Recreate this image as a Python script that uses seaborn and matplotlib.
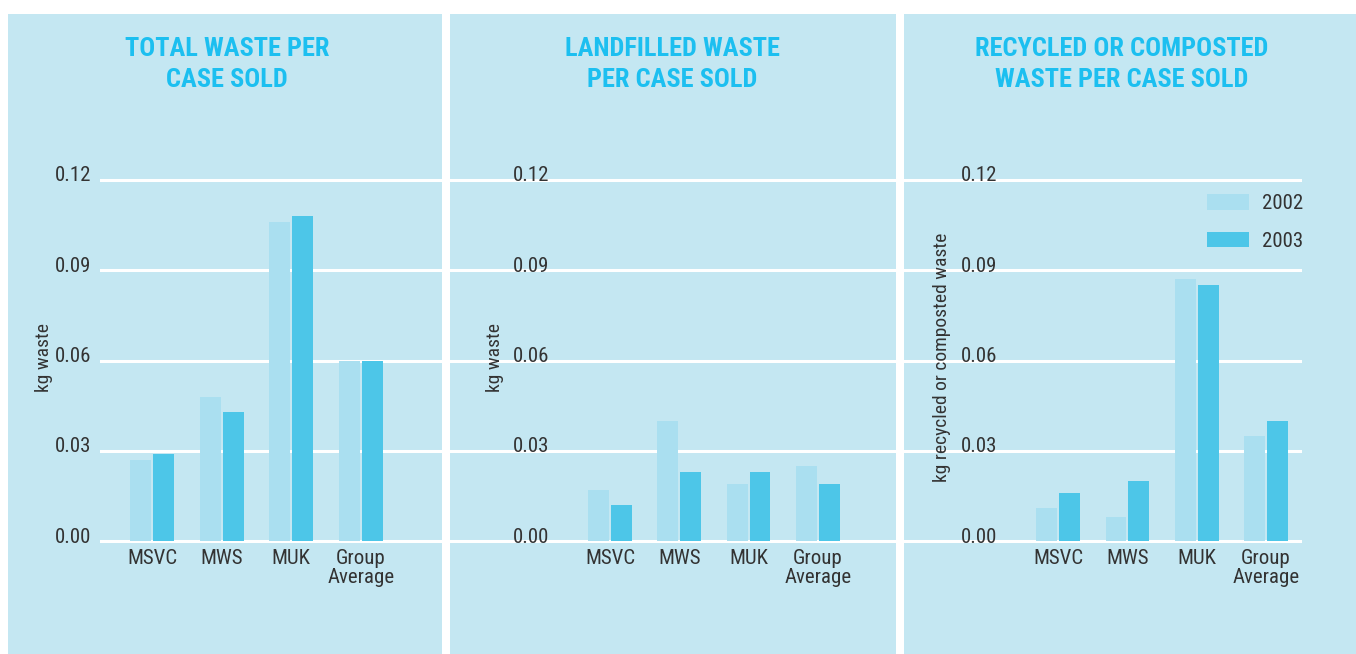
import matplotlib
matplotlib.use("Agg")
import matplotlib.pyplot as plt
from matplotlib import font_manager
from matplotlib.patches import Rectangle
from matplotlib.transforms import ScaledTranslation
import pandas as pd
import seaborn as sns

# ---- data -------------------------------------------------------------
sites = ["MSVC", "MWS", "MUK", "Group\nAverage"]
years = ["2002", "2003"]

total_2002 = [0.027, 0.048, 0.106, 0.060]
total_2003 = [0.029, 0.043, 0.108, 0.060]

landfill_2002 = [0.017, 0.040, 0.019, 0.025]
landfill_2003 = [0.012, 0.023, 0.023, 0.019]

recycled_2002 = [0.011, 0.008, 0.087, 0.035]
recycled_2003 = [0.016, 0.020, 0.085, 0.040]

y_ticks = [0.00, 0.03, 0.06, 0.09, 0.12]
y_tick_labels = ["0.00", "0.03", "0.06", "0.09", "0.12"]

titles = ["TOTAL WASTE PER\nCASE SOLD",
          "LANDFILLED WASTE\nPER CASE SOLD",
          "RECYCLED OR COMPOSTED\nWASTE PER CASE SOLD"]
y_labels = ["kg waste", "kg waste", "kg recycled or composted waste"]

# ---- style ------------------------------------------------------------
PANEL_BG = "#c4e7f2"
C2002 = "#aadff0"
C2003 = "#4dc6e8"
TITLE_C = "#1cbff0"
TEXT_C = "#333333"

available = {f.name for f in font_manager.fontManager.ttflist}
FONT = next((f for f in ["Liberation Sans Narrow", "Roboto Condensed",
                         "Liberation Sans"] if f in available), "DejaVu Sans")

W, H = 1356, 654
DPI = 100
fig = plt.figure(figsize=(W / DPI, H / DPI), dpi=DPI, facecolor="white")
plt.rcParams["font.family"] = [FONT, "DejaVu Sans"]


def fx(x):
    return x / W


def fy(y):
    return 1 - y / H


# panel backgrounds (x0, x1 in pixels)
panels = [(8, 442), (450, 896), (904, 1356)]
for x0, x1 in panels:
    fig.add_artist(Rectangle((fx(x0), 0), fx(x1 - x0), fy(14),
                             transform=fig.transFigure, facecolor=PANEL_BG,
                             edgecolor="none", zorder=0))

# plotting areas: (left px, right px, xlim)
y_top_px, y_bot_px = 173.5, 547.5
areas = [
    (100, 442, (-0.746, 4.162)),
    (450, 896, (-2.309, 4.126)),
    (904, 1302, (-2.222, 3.519)),
]
tick_label_right = [91, 549, 997]
ylabel_x = [44, 495, 942]
title_x = [227, 672, 1122]

series = [(total_2002, total_2003),
          (landfill_2002, landfill_2003),
          (recycled_2002, recycled_2003)]

for i, ((x0, x1, xlim), (v02, v03)) in enumerate(zip(areas, series)):
    ax = fig.add_axes([fx(x0), fy(y_bot_px), fx(x1 - x0),
                       (y_bot_px - y_top_px) / H])
    ax.patch.set_alpha(0)

    df = pd.DataFrame({
        "site": sites * 2,
        "year": [years[0]] * len(sites) + [years[1]] * len(sites),
        "kg": list(v02) + list(v03),
    })
    sns.barplot(data=df, x="site", y="kg", hue="year", order=sites,
                hue_order=years, palette=[C2002, C2003], saturation=1,
                width=0.66, gap=0.09, errorbar=None, legend=(i == 2), ax=ax)

    ax.set_xlim(*xlim)
    ax.set_ylim(-0.002, 0.122)
    ax.set_yticks(y_ticks)
    ax.set_yticklabels(y_tick_labels)
    ax.set_xlabel("")
    ax.set_ylabel(y_labels[i], fontsize=14, color=TEXT_C,
                  ha="center", va="center")
    ax.yaxis.set_label_coords((ylabel_x[i] - x0) / (x1 - x0),
                              (y_bot_px - 357) / (y_bot_px - y_top_px))

    for s in ax.spines.values():
        s.set_visible(False)
    ax.yaxis.grid(True, color="white", linewidth=2.2)
    ax.xaxis.grid(False)
    ax.set_axisbelow(True)

    pad_px = x0 - tick_label_right[i]
    ax.tick_params(axis="y", length=0, pad=pad_px * 0.72,
                   labelsize=15, labelcolor=TEXT_C)
    ax.tick_params(axis="x", length=0, pad=1, labelsize=15,
                   labelcolor=TEXT_C)
    lift = ScaledTranslation(0, 6 / DPI, fig.dpi_scale_trans)
    for lbl in ax.get_yticklabels():
        lbl.set_transform(lbl.get_transform() + lift)
    for lbl in ax.get_xticklabels():
        lbl.set_linespacing(1.0)

    fig.text(fx(title_x[i]), fy(64.5), titles[i], ha="center", va="center",
             fontsize=19, fontweight="bold", color=TITLE_C,
             linespacing=1.33)

    if i == 2:
        sns.move_legend(ax, loc="upper left",
                        bbox_to_anchor=(fx(1207), fy(194)),
                        bbox_transform=fig.transFigure, frameon=False,
                        title=None, fontsize=15, handlelength=2.0,
                        handleheight=0.77, handletextpad=0.63,
                        labelspacing=0.9, borderpad=0, borderaxespad=0)
        for t in ax.get_legend().get_texts():
            t.set_color(TEXT_C)

fig.savefig("out.png", dpi=DPI, facecolor="white")
